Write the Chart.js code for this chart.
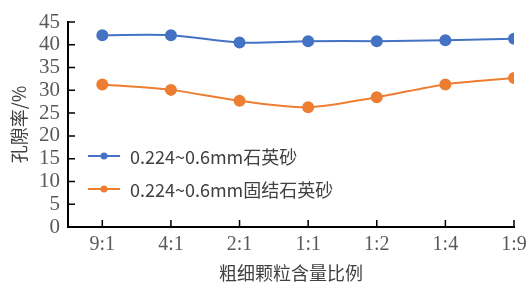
<!DOCTYPE html>
<html>
<head>
<meta charset="utf-8">
<script src="https://cdn.jsdelivr.net/npm/chart.js@4"></script>
<style>
  body { margin: 0; background: #fff; }
  #wrap { width: 531px; height: 284px; }
</style>
</head>
<body>
<div id="wrap"><canvas id="myChart" width="531" height="284"></canvas></div>
<script>
const categories = ['9:1', '4:1', '2:1', '1:1', '1:2', '1:4', '1:9'];
const seriesNames = ['0.224~0.6mm石英砂', '0.224~0.6mm固结石英砂'];
const quartz = [42.1, 42.1, 40.5, 40.8, 40.8, 41.0, 41.3];
const bonded = [31.3, 30.1, 27.7, 26.3, 28.5, 31.3, 32.7];
const yTicks = [0, 5, 10, 15, 20, 25, 30, 35, 40, 45];

const numFont = '"Liberation Serif", "DejaVu Serif", serif';
const cjkFont = '"Noto Sans CJK SC", sans-serif';

const toPoints = vals => vals.map((v, i) => ({x: i, y: v}));

// tick marks point inwards in the original, draw them from the scales
const innerTicks = {
    id: 'innerTicks',
    afterDraw(chart) {
        const ctx = chart.ctx;
        const a = chart.chartArea;
        const xs = chart.scales.x, ys = chart.scales.y;
        ctx.save();
        ctx.strokeStyle = '#000';
        ctx.lineWidth = 1.5;
        ctx.beginPath();
        ys.ticks.forEach(t => {
            const y = ys.getPixelForValue(t.value);
            ctx.moveTo(a.left, y);
            ctx.lineTo(a.left + 7, y);
        });
        xs.ticks.forEach(t => {
            const x = xs.getPixelForValue(t.value);
            ctx.moveTo(x, a.bottom);
            ctx.lineTo(x, a.bottom - 7);
        });
        ctx.stroke();
        ctx.restore();
    }
};

// legend drawn inside the plot area, like the original
const innerLegend = {
    id: 'innerLegend',
    afterDatasetsDraw(chart) {
        const ctx = chart.ctx;
        const rows = [156, 189];
        ctx.save();
        chart.data.datasets.forEach((ds, i) => {
            const y = rows[i];
            ctx.strokeStyle = ds.borderColor;
            ctx.lineWidth = 2;
            ctx.beginPath();
            ctx.moveTo(88, y);
            ctx.lineTo(120, y);
            ctx.stroke();
            ctx.fillStyle = ds.borderColor;
            ctx.beginPath();
            ctx.arc(104, y, 3.5, 0, Math.PI * 2);
            ctx.fill();
            ctx.fillStyle = '#404040';
            ctx.font = '18px ' + cjkFont;
            ctx.textBaseline = 'middle';
            ctx.fillText(ds.label, 130, y + 1);
        });
        ctx.restore();
    }
};

const ch = new Chart(document.getElementById('myChart').getContext('2d'), {
    type: 'line',
    data: {
        datasets: [{
            label: seriesNames[0],
            data: toPoints(quartz),
            borderColor: '#4472C4',
            backgroundColor: '#4472C4',
            borderWidth: 2,
            pointRadius: 5,
            pointHoverRadius: 5,
            tension: 0.3,
        }, {
            label: seriesNames[1],
            data: toPoints(bonded),
            borderColor: '#ED7D31',
            backgroundColor: '#ED7D31',
            borderWidth: 2,
            pointRadius: 5,
            pointHoverRadius: 5,
            tension: 0.3,
        }]
    },
    options: {
        responsive: false,
        animation: false,
        layout: { padding: { top: 22, right: 17, left: 0, bottom: 0 } },
        plugins: {
            legend: { display: false },
            tooltip: { enabled: false }
        },
        scales: {
            x: {
                type: 'linear',
                min: -0.5,
                max: categories.length - 1,
                afterBuildTicks: s => { s.ticks = categories.map((_, i) => ({value: i})); },
                afterFit: s => { s.height = 57; s.paddingLeft = 0; s.paddingRight = 0; },
                ticks: {
                    callback: v => categories[v],
                    color: '#595959',
                    font: { family: numFont, size: 20 },
                    padding: 6,
                    maxRotation: 0,
                    autoSkip: false
                },
                grid: { drawOnChartArea: false, drawTicks: false },
                border: { color: '#000', width: 2 },
                title: {
                    display: true,
                    text: '粗细颗粒含量比例',
                    color: '#404040',
                    font: { family: cjkFont, size: 18 },
                    padding: 0
                }
            },
            y: {
                min: 0,
                max: 45,
                afterBuildTicks: s => { s.ticks = yTicks.map(v => ({value: v})); },
                afterFit: s => { s.width = 68; s.paddingTop = 0; s.paddingBottom = 0; },
                ticks: {
                    color: '#595959',
                    font: { family: numFont, size: 21 },
                    padding: 8,
                    autoSkip: false
                },
                grid: { drawOnChartArea: false, drawTicks: false },
                border: { color: '#000', width: 2 },
                title: {
                    display: true,
                    text: '孔隙率/%',
                    color: '#404040',
                    font: { family: cjkFont, size: 18 },
                    padding: { top: 8, bottom: 0 }
                }
            }
        }
    },
    plugins: [innerTicks, innerLegend]
});
</script>
</body>
</html>
